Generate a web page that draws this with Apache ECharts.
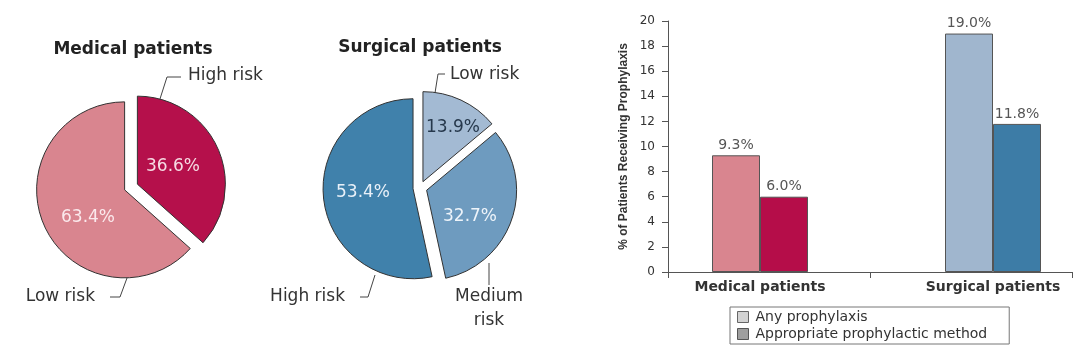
<!DOCTYPE html>
<html>
<head>
<meta charset="utf-8">
<script src="https://cdn.jsdelivr.net/npm/echarts@6/dist/echarts.min.js"></script>
<style>
html,body{margin:0;padding:0;background:#fff;}
#chart{width:1080px;height:357px;}
</style>
</head>
<body>
<div id="chart"></div>
<script>
// ---- data ----
const medicalNames = ['High risk', 'Low risk'];
const medicalValues = [36.6, 63.4];
const surgicalNames = ['Low risk', 'Medium\nrisk', 'High risk'];
const surgicalValues = [13.9, 32.7, 53.4];
const barCategories = ['Medical patients', 'Surgical patients'];
const anyProphylaxis = [9.3, 19.0];
const appropriateMethod = [6.0, 11.8];
const seriesNames = ['Any prophylaxis', 'Appropriate prophylactic method'];

// ---- styles ----
const medicalColors = ['#b5104b', '#d9858f'];
const medicalLabelColors = ['#f6dbe3', '#fbe9ec'];
const surgicalColors = ['#a3bad3', '#6e9bbf', '#4081ab'];
const surgicalLabelColors = ['#26384c', '#eef4fa', '#e8f0f8'];
const anyColors = ['#d9858f', '#a0b6ce'];
const apprColors = ['#b50d49', '#3d7ca6'];
const FONT = 'DejaVu Sans';

// label placement (annotation layout)
const medicalLayout = [
  {x: 188, y: 76, align: 'left', line: [[159, 102], [167, 77], [181, 77]]},
  {x: 95, y: 297, align: 'right', line: [[127, 278], [120, 297], [110, 297]]}
];
const surgicalLayout = [
  {x: 450, y: 75, align: 'left', line: [[435, 93], [438, 74], [445, 74]]},
  {x: 489, y: 309, align: 'center', line: [[489, 263], [489, 285]]},
  {x: 345, y: 297, align: 'right', line: [[375, 275], [368, 297], [360, 297]]}
];
const medicalPctPos = [[173, 167], [88, 218]];
const surgicalPctPos = [[453, 128], [470, 217], [363, 193]];

function sliceData(names, values, colors) {
  return names.map((n, i) => ({name: n, value: values[i], selected: true, itemStyle: {color: colors[i]}}));
}
function plainData(names, values, labelColors) {
  return names.map((n, i) => labelColors
    ? {name: n, value: values[i], label: {color: labelColors[i]}}
    : {name: n, value: values[i]});
}
function layoutFn(layout) {
  return function (p) {
    const L = layout[p.dataIndex];
    return {x: L.x, y: L.y, align: L.align, verticalAlign: 'middle', labelLinePoints: L.line};
  };
}
function pctLayoutFn(pos) {
  return function (p) {
    const P = pos[p.dataIndex];
    return {x: P[0], y: P[1], align: 'center', verticalAlign: 'middle'};
  };
}

function slicePie(center, radius, data) {
  return {
    type: 'pie', center: center, radius: radius, startAngle: 90, clockwise: true,
    selectedMode: 'multiple', selectedOffset: 7, animation: false, silent: true,
    itemStyle: {borderColor: '#333', borderWidth: 1},
    label: {show: false}, labelLine: {show: false},
    emphasis: {disabled: true},
    select: {itemStyle: {borderColor: '#333', borderWidth: 1}},
    data: data
  };
}
function namePie(center, radius, data, layout) {
  return {
    type: 'pie', center: center, radius: radius, startAngle: 90, clockwise: true,
    selectedMode: false, animation: false, silent: true,
    itemStyle: {color: 'rgba(0,0,0,0)', borderWidth: 0},
    label: {show: true, position: 'outside', formatter: '{b}', color: '#333', fontSize: 17,
      fontFamily: FONT, lineHeight: 24, overflow: 'none', alignTo: 'none', textAlign: 'center'},
    labelLine: {show: true, length: 10, length2: 10, lineStyle: {color: '#444', width: 1}},
    labelLayout: layoutFn(layout),
    emphasis: {disabled: true},
    data: data
  };
}
function pctPie(center, radius, data, pos) {
  return {
    type: 'pie', center: center, radius: radius, startAngle: 90, clockwise: true,
    selectedMode: false, animation: false, silent: true,
    itemStyle: {color: 'rgba(0,0,0,0)', borderWidth: 0},
    label: {show: true, position: 'inside', fontSize: 17, fontFamily: FONT, overflow: 'none',
      formatter: p => p.value.toFixed(1) + '%'},
    labelLine: {show: false},
    labelLayout: pctLayoutFn(pos),
    emphasis: {disabled: true},
    data: data
  };
}

const chart = echarts.init(document.getElementById('chart'), null, {renderer: 'canvas'});
chart.setOption({
  animation: false,
  backgroundColor: '#ffffff',
  title: [
    {text: 'Medical patients', left: 128, top: 36, textAlign: 'center',
      textStyle: {fontFamily: FONT, fontSize: 17, fontWeight: 'bold', color: '#222'}},
    {text: 'Surgical patients', left: 415, top: 34, textAlign: 'center',
      textStyle: {fontFamily: FONT, fontSize: 17, fontWeight: 'bold', color: '#222'}}
  ],
  legend: {
    orient: 'vertical', left: 730, top: 307,
    padding: [3, 22, 3, 7], itemGap: 3, itemWidth: 11, itemHeight: 11,
    borderColor: '#777', borderWidth: 1, icon: 'rect',
    textStyle: {fontFamily: FONT, fontSize: 14, color: '#333', lineHeight: 14, padding: [0, 0, 0, 2]},
    data: [
      {name: seriesNames[0], itemStyle: {color: '#d3d3d3', borderColor: '#666', borderWidth: 1}},
      {name: seriesNames[1], itemStyle: {color: '#9e9e9e', borderColor: '#555', borderWidth: 1}}
    ]
  },
  grid: [
    {left: 668, top: 21, width: 404, height: 251},
    {left: 760, top: 21, width: 233, height: 251}
  ],
  xAxis: [
    {type: 'category', gridIndex: 0, data: ['', ''],
      axisLine: {lineStyle: {color: '#555', width: 1}},
      axisTick: {show: true, length: 6, alignWithLabel: false, lineStyle: {color: '#555'}},
      axisLabel: {show: false}},
    {type: 'category', gridIndex: 1, data: barCategories, boundaryGap: false,
      axisLine: {show: false}, axisTick: {show: false},
      axisLabel: {show: true, margin: 8, fontFamily: FONT, fontSize: 14, fontWeight: 'bold', color: '#333'}}
  ],
  yAxis: [
    {type: 'value', gridIndex: 0, min: 0, max: 20, interval: 2,
      name: '% of Patients Receiving Prophylaxis', nameLocation: 'middle', nameRotate: 90, nameGap: 38,
      nameTextStyle: {fontFamily: 'Liberation Sans', fontSize: 12, fontWeight: 'bold', color: '#333'},
      axisLine: {show: true, lineStyle: {color: '#555', width: 1}},
      axisTick: {show: true, length: 6, lineStyle: {color: '#555'}},
      axisLabel: {margin: 13, fontFamily: FONT, fontSize: 12, color: '#333'},
      splitLine: {show: false}},
    {type: 'value', gridIndex: 1, min: 0, max: 20, interval: 2, show: false, splitLine: {show: false}}
  ],
  series: [
    slicePie([131, 187], 88, sliceData(medicalNames, medicalValues, medicalColors)),
    namePie([131, 187], 88, plainData(medicalNames, medicalValues), medicalLayout),
    pctPie([131, 187], 88, plainData(medicalNames, medicalValues, medicalLabelColors), medicalPctPos),
    slicePie([420, 188], 90, sliceData(surgicalNames, surgicalValues, surgicalColors)),
    namePie([420, 188], 90, plainData(surgicalNames, surgicalValues), surgicalLayout),
    pctPie([420, 188], 90, plainData(surgicalNames, surgicalValues, surgicalLabelColors), surgicalPctPos),
    {
      type: 'bar', name: seriesNames[0], xAxisIndex: 1, yAxisIndex: 1,
      barWidth: 48, barGap: '0%',
      itemStyle: {borderColor: '#555', borderWidth: 1},
      label: {show: true, position: 'top', distance: 3, fontFamily: FONT, fontSize: 14, color: '#555',
        formatter: p => p.value.toFixed(1) + '%'},
      data: anyProphylaxis.map((v, i) => ({value: v, itemStyle: {color: anyColors[i]}}))
    },
    {
      type: 'bar', name: seriesNames[1], xAxisIndex: 1, yAxisIndex: 1,
      barWidth: 48, barGap: '0%',
      itemStyle: {borderColor: '#555', borderWidth: 1},
      label: {show: true, position: 'top', distance: 3, fontFamily: FONT, fontSize: 14, color: '#555',
        formatter: p => p.value.toFixed(1) + '%'},
      data: appropriateMethod.map((v, i) => ({value: v, itemStyle: {color: apprColors[i]}}))
    }
  ]
});
</script>
</body>
</html>
